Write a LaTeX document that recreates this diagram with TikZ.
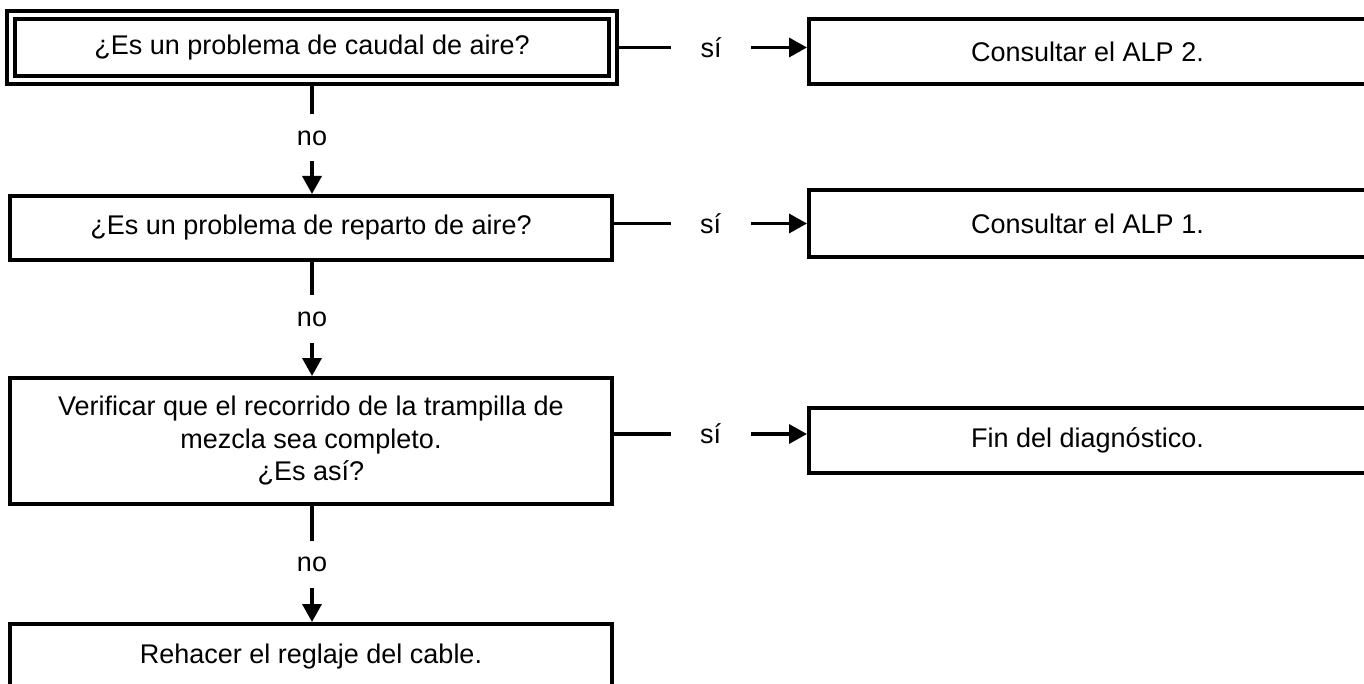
\documentclass[tikz,border=0pt]{standalone}
\usepackage{fontspec}
\setmainfont{Liberation Sans}
\usetikzlibrary{arrows.meta}
\begin{document}
\begin{tikzpicture}[x=1pt,y=-1pt,
  every node/.style={font=\fontsize{27}{32.5}\selectfont},
  box/.style={draw, line width=4pt, minimum width=602pt, inner sep=0pt, align=center},
  rbox/.style={draw, line width=4pt, minimum width=557pt, inner sep=0pt},
  conn/.style={line width=3.5pt},
  tip/.style={-{Triangle[length=18pt,width=19pt]}},
  hlab/.style={fill=white, inner sep=0pt, minimum width=80pt, minimum height=30pt},
  vlab/.style={fill=white, inner sep=0pt, minimum width=40pt, minimum height=47pt}]
\useasboundingbox (0,0) rectangle (1364,684);
\clip (0,0) rectangle (1364,684);

\node[box, double, line width=4pt, double distance=4pt, minimum height=65pt] (b1) at (312,47.5) {¿Es un problema de caudal de aire?};
\node[box, minimum height=64pt] (b2) at (311,228) {¿Es un problema de reparto de aire?};
\node[box, minimum height=126pt] (b3) at (311,441) {Verificar que el recorrido de la trampilla de\\mezcla sea completo.\\¿Es así?};
\node[box, minimum height=66pt] (b4) at (311,657) {Rehacer el reglaje del cable.};

\node[rbox, minimum height=65pt] (r1) at (1087.5,51.5) {Consultar el ALP 2.};
\node[rbox, minimum height=67pt] (r2) at (1087.5,223.5) {Consultar el ALP 1.};
\node[rbox, minimum height=65pt] (r3) at (1087.5,440.5) {Fin del diagnóstico.};

\coordinate (s3) at ([yshift=7pt]b3.east);

\draw[conn, tip] (b1.east) -- node[hlab] {sí} (r1.west |- b1.east);
\draw[conn, tip] (b2.east |- r2.west) -- node[hlab] {sí} (r2.west);
\draw[conn, tip] (s3) -- node[hlab] {sí} (r3.west |- s3);

\draw[conn, tip] (b1.south) -- node[vlab] {no} (b1.south |- b2.north);
\draw[conn, tip] (b1.south |- b2.south) -- node[vlab] {no} (b1.south |- b3.north);
\draw[conn, tip] (b1.south |- b3.south) -- node[vlab] {no} (b1.south |- b4.north);
\end{tikzpicture}
\end{document}
